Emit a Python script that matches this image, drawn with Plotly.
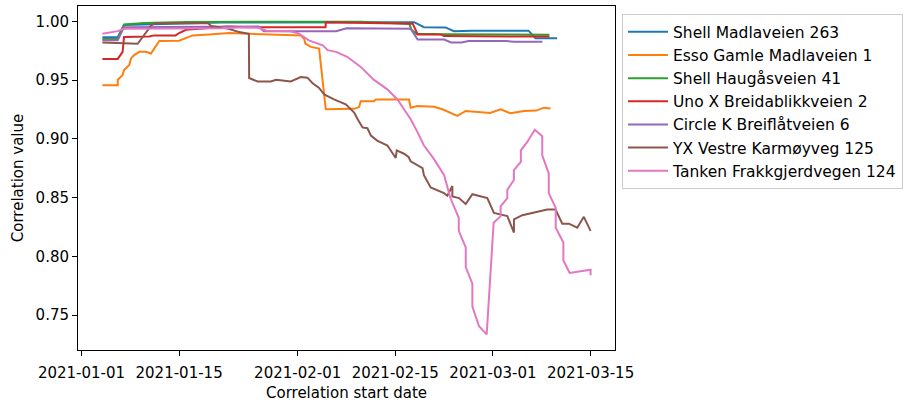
import pandas as pd
import plotly.graph_objects as go

BASE = pd.Timestamp("2021-01-01")

names = [
    "Shell Madlaveien 263",
    "Esso Gamle Madlaveien 1",
    "Shell Haugåsveien 41",
    "Uno X Breidablikkveien 2",
    "Circle K Breiflåtveien 6",
    "YX Vestre Karmøyveg 125",
    "Tanken Frakkgjerdvegen 124",
]
colors = ["#1f77b4", "#ff7f0e", "#2ca02c", "#d62728", "#9467bd", "#8c564b", "#e377c2"]

# day offsets from 2021-01-01 and correlation values
shell_madla_days = [3, 5.2, 6.1, 12, 20, 47.7, 48.4, 49.1, 52.2, 53.4, 56, 64.1, 65.1, 68.2]
shell_madla_vals = [0.9865, 0.9865, 0.9968, 0.998, 0.999, 0.9992, 0.997, 0.995, 0.9948, 0.9916, 0.992, 0.992, 0.9855, 0.9855]

esso_days = [3, 5.2, 5.2, 5.9, 6.1, 6.85, 7.1, 7.56, 8.28, 9.2, 9.96, 10.43, 11.15, 14.0, 14.97, 15.93,
             18.3, 21.2, 24, 31.45, 31.92, 32.1, 32.88, 34.07, 35.03, 37.18, 39.08, 39.8, 40.04, 41.95,
             42.19, 46.96, 47.21, 48.17, 50.54, 51.75, 52.94, 53.9, 55.09, 57.24, 58.6, 60.1, 61.53,
             63.44, 65.2, 66.3, 67.26]
esso_vals = [0.9455, 0.9455, 0.9503, 0.9544, 0.9586, 0.9628, 0.9684, 0.9712, 0.974, 0.974, 0.9726, 0.9768,
             0.9832, 0.9835, 0.9861, 0.988, 0.9888, 0.99, 0.9894, 0.988, 0.9852, 0.981, 0.9782, 0.9768,
             0.9251, 0.9251, 0.9255, 0.927, 0.932, 0.932, 0.9335, 0.9335, 0.9265, 0.9279, 0.9272, 0.9251,
             0.9223, 0.9195, 0.9237, 0.9223, 0.922, 0.9251, 0.9217, 0.9237, 0.924, 0.9265, 0.9257]

shell_haug_days = [3, 5.2, 6.1, 9, 15, 25, 40, 45.8, 47, 47.3, 48, 52, 66, 67.1]
shell_haug_vals = [0.985, 0.985, 0.9972, 0.9985, 0.9993, 0.9997, 0.9995, 0.9985, 0.998, 0.993, 0.9894, 0.989, 0.989, 0.9885]

unox_days = [3, 5.2, 5.9, 6.1, 9.7, 10.4, 13.5, 14, 15, 17, 21, 23.6, 35, 35.03, 45, 47.5, 48.2, 51.5, 52, 67.1]
unox_vals = [0.968, 0.968, 0.974, 0.9866, 0.987, 0.988, 0.988, 0.990, 0.9928, 0.9936, 0.9955, 0.995, 0.995,
             0.9992, 0.9985, 0.998, 0.9888, 0.9888, 0.9874, 0.987]

circlek_days = [3, 5.2, 6.1, 23.5, 25.4, 26.15, 36.5, 38, 47.2, 48.2, 52, 53, 54.5, 55.5, 61, 62, 66.1]
circlek_vals = [0.9838, 0.9838, 0.995, 0.9955, 0.9955, 0.9916, 0.9916, 0.994, 0.9936, 0.9844, 0.9844, 0.982,
                0.982, 0.9832, 0.9832, 0.9825, 0.9825]

yx_days = [3, 5.2, 6, 8.05, 10, 10.5, 18.1, 18.6, 21.1, 22.6, 24.0, 24.04, 25.24, 27.15, 27.9, 29.5, 30.0,
           31.45, 32.4, 33.1, 34.07, 34.8, 36.2, 37.9, 38.3, 39.1, 39.6, 40.3, 41.0, 41.5, 42.4, 43.87,
           45.06, 45.2, 46.25, 46.9, 47.2, 48.17, 48.9, 49.1, 50.07, 51.98, 52.46, 53.18, 53.18, 54.13,
           55.09, 56.05, 58.19, 59.14, 61.06, 62.01, 62.01, 63.21, 65.83, 66.79, 67.98, 68.94, 69.89,
           71.09, 72.03, 73.0]
yx_vals = [0.9819, 0.9815, 0.9808, 0.9808, 0.9964, 0.9983, 0.9985, 0.996, 0.9936, 0.9908, 0.9894, 0.9517,
           0.9488, 0.9488, 0.9503, 0.9495, 0.9488, 0.9525, 0.952, 0.9475, 0.9433, 0.9377, 0.9335, 0.9293,
           0.927, 0.9223, 0.9167, 0.9097, 0.909, 0.9027, 0.8985, 0.8943, 0.8837, 0.8901, 0.8873, 0.8845,
           0.8809, 0.8775, 0.875, 0.8691, 0.8586, 0.8538, 0.8515, 0.8599, 0.851, 0.8496, 0.8445, 0.8529,
           0.8496, 0.837, 0.8342, 0.8202, 0.8314, 0.835, 0.8384, 0.8398, 0.8398, 0.8278, 0.8278, 0.8244,
           0.8336, 0.8217]

tanken_days = [3, 5.2, 6.1, 20, 23.5, 25.4, 26.5, 30, 31.2, 32.6, 34.6, 35.3, 36.5, 38.1, 40.0, 41.9, 43.9,
               45.3, 46.25, 47.2, 48.2, 49.1, 50.5, 52.0, 52.9, 54.1, 54.1, 55.1, 55.1, 56.05, 56.05, 57.0,
               58.1, 59.1, 60.1, 60.1, 61.06, 61.06, 62.0, 62.0, 63.0, 63.0, 63.9, 65.0, 66.07, 66.07, 67.0,
               67.0, 68.0, 68.0, 69.1, 69.1, 70.0, 73.0, 73.0]
tanken_vals = [0.9894, 0.9916, 0.9936, 0.994, 0.995, 0.9945, 0.992, 0.9915, 0.9894, 0.9838, 0.9796, 0.9754,
               0.974, 0.9698, 0.9614, 0.9503, 0.9419, 0.9335, 0.9251, 0.9167, 0.9055, 0.8943, 0.8831, 0.8691,
               0.8496, 0.8328, 0.8217, 0.8076, 0.7909, 0.7768, 0.7573, 0.7405, 0.7336, 0.8286, 0.8342, 0.8426,
               0.8496, 0.8566, 0.8649, 0.8733, 0.8804, 0.8901, 0.8971, 0.9077, 0.9022, 0.8859, 0.8706, 0.8538,
               0.8412, 0.8244, 0.8118, 0.7965, 0.7859, 0.7886, 0.7839]

series_days = [shell_madla_days, esso_days, shell_haug_days, unox_days, circlek_days, yx_days, tanken_days]
series_vals = [shell_madla_vals, esso_vals, shell_haug_vals, unox_vals, circlek_vals, yx_vals, tanken_vals]

xtick_labels = ["2021-01-01", "2021-01-15", "2021-02-01", "2021-02-15", "2021-03-01", "2021-03-15"]
ytick_vals = [0.75, 0.80, 0.85, 0.90, 0.95, 1.00]

FONT = "DejaVu Sans"
fig = go.Figure()
for name, color, days, vals in zip(names, colors, series_days, series_vals):
    dates = [BASE + pd.Timedelta(days=d) for d in days]
    fig.add_trace(go.Scatter(x=dates, y=vals, mode="lines", name=name,
                             line=dict(color=color, width=2)))

axis_common = dict(showline=True, linecolor="black", linewidth=1, mirror=True,
                   ticks="outside", ticklen=5, tickwidth=1, tickcolor="black",
                   showgrid=False, zeroline=False,
                   tickfont=dict(family=FONT, size=15, color="black"))

fig.update_xaxes(type="date",
                 range=[BASE - pd.Timedelta(days=0.5), BASE + pd.Timedelta(days=76.5)],
                 tickvals=[pd.Timestamp(t) for t in xtick_labels], ticktext=xtick_labels,
                 ticklabelstandoff=4,
                 title=dict(text="Correlation start date", font=dict(family=FONT, size=15, color="black"),
                            standoff=6),
                 **axis_common)
fig.update_yaxes(range=[0.7203, 1.013], tickvals=ytick_vals,
                 ticktext=[f"{v:.2f}" for v in ytick_vals],
                 title=dict(text="Correlation value", font=dict(family=FONT, size=15, color="black"),
                            standoff=8),
                 **axis_common)

fig.update_layout(
    width=909, height=404,
    margin=dict(l=78, r=294, t=5, b=51),
    plot_bgcolor="white", paper_bgcolor="white",
    font=dict(family=FONT, size=15, color="black"),
    legend=dict(x=1.013, y=0.976, xanchor="left", yanchor="top",
                bgcolor="white", bordercolor="#cccccc", borderwidth=1, itemwidth=40,
                font=dict(family=FONT, size=15.5, color="black")),
)

fig.write_html("out.html")
